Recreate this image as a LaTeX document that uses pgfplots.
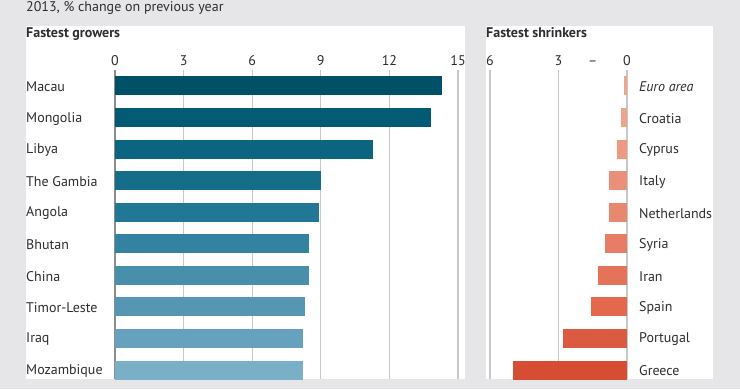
\documentclass[border=0pt]{standalone}
\usepackage{pgfplots}
\pgfplotsset{compat=1.18}
\usepackage{fontspec}
\setmainfont{PT Sans}
\definecolor{bg}{HTML}{E6E6E8}
\definecolor{txt}{HTML}{2E2E2E}
\definecolor{gridc}{HTML}{C8C8C8}
\definecolor{zeroc}{HTML}{8C8C8C}
\definecolor{redl}{HTML}{E3120B}
\definecolor{b0}{HTML}{005068}
\definecolor{b1}{HTML}{035A75}
\definecolor{b2}{HTML}{0B6480}
\definecolor{b3}{HTML}{146E8A}
\definecolor{b4}{HTML}{217896}
\definecolor{b5}{HTML}{3382A0}
\definecolor{b6}{HTML}{478FAB}
\definecolor{b7}{HTML}{5696B3}
\definecolor{b8}{HTML}{66A2BD}
\definecolor{b9}{HTML}{7AAFC8}
\definecolor{r0}{HTML}{F0A58F}
\definecolor{r1}{HTML}{EEA38C}
\definecolor{r2}{HTML}{EC9A82}
\definecolor{r3}{HTML}{EA9078}
\definecolor{r4}{HTML}{E8886F}
\definecolor{r5}{HTML}{E77D64}
\definecolor{r6}{HTML}{E57359}
\definecolor{r7}{HTML}{E3684E}
\definecolor{r8}{HTML}{DC5A42}
\definecolor{r9}{HTML}{D64D33}
\newcommand{\lblfont}{\fontsize{14}{16}\selectfont}
\pgfplotsset{
  panel/.style={
    scale only axis, height=309pt,
    ymin=-0.506, ymax=9.285, y dir=reverse,
    xbar, bar width=19pt, bar shift=0pt,
    axis line style={draw=none},
    major tick length=0pt,
    xmajorgrids, grid style={color=gridc, line width=1.2pt},
    ytick={0,...,9},
    xticklabel pos=right,
    tick label style={font=\lblfont, text=txt, inner sep=0pt},
    xticklabel style={yshift=4pt},
    yticklabel style={yshift=-1pt},
    every axis plot/.append style={draw=none},
  }
}
\begin{document}
\begin{tikzpicture}[x=1pt,y=1pt]
\useasboundingbox (0,0) rectangle (740,389);
\fill[bg] (0,0) rectangle (740,389);
\fill[white] (26,10) rectangle (465,363);
\fill[white] (486,10) rectangle (713,363);
\node[anchor=base west, inner sep=0pt, text=txt, font=\lblfont] at (26,377) {2013, \% change on previous year};
\node[anchor=base west, inner sep=0pt, text=txt, font=\lblfont\bfseries] at (26,351) {Fastest growers};
\node[anchor=base west, inner sep=0pt, text=txt, font=\lblfont\bfseries] at (486,351) {Fastest shrinkers};

\begin{axis}[panel, at={(115pt,10pt)}, anchor=south west, width=343pt,
  xmin=0, xmax=15, xtick={0,3,6,9,12,15}, xticklabels={0,3,6,9,12,15},
  yticklabels={Macau,Mongolia,Libya,The Gambia,Angola,Bhutan,China,Timor-Leste,Iraq,Mozambique},
  yticklabel style={anchor=west, xshift=-89pt},
  extra x ticks={0}, extra x tick labels={}, extra x tick style={grid style={color=zeroc, line width=1.2pt}}]
\addplot[fill=b0] coordinates {(14.3,0)};
\addplot[fill=b1] coordinates {(13.8,1)};
\addplot[fill=b2] coordinates {(11.3,2)};
\addplot[fill=b3] coordinates {(9.0,3)};
\addplot[fill=b4] coordinates {(8.9,4)};
\addplot[fill=b5] coordinates {(8.5,5)};
\addplot[fill=b6] coordinates {(8.5,6)};
\addplot[fill=b7] coordinates {(8.3,7)};
\addplot[fill=b8] coordinates {(8.2,8)};
\addplot[fill=b9] coordinates {(8.2,9)};
\end{axis}

\begin{axis}[panel, at={(490pt,10pt)}, anchor=south west, width=137pt,
  xmin=-6, xmax=0, xtick={-6,-3,0}, xticklabels={6,3,0},
  extra x ticks={-1.5}, extra x tick labels={–}, extra x tick style={grid=none},
  yticklabel pos=right,
  yticklabels={\textit{Euro area},Croatia,Cyprus,Italy,Netherlands,Syria,Iran,Spain,Portugal,Greece},
  yticklabel style={anchor=west, xshift=12pt}]
\addplot[fill=r0] coordinates {(-0.15,0)};
\addplot[fill=r1] coordinates {(-0.28,1)};
\addplot[fill=r2] coordinates {(-0.45,2)};
\addplot[fill=r3] coordinates {(-0.8,3)};
\addplot[fill=r4] coordinates {(-0.8,4)};
\addplot[fill=r5] coordinates {(-0.97,5)};
\addplot[fill=r6] coordinates {(-1.27,6)};
\addplot[fill=r7] coordinates {(-1.58,7)};
\addplot[fill=r8] coordinates {(-2.79,8)};
\addplot[fill=r9] coordinates {(-5.0,9)};
\addplot[redl, line width=1pt, xbar=false, draw=redl] coordinates {(0,-0.506) (0,9.285)};
\end{axis}
\end{tikzpicture}
\end{document}
